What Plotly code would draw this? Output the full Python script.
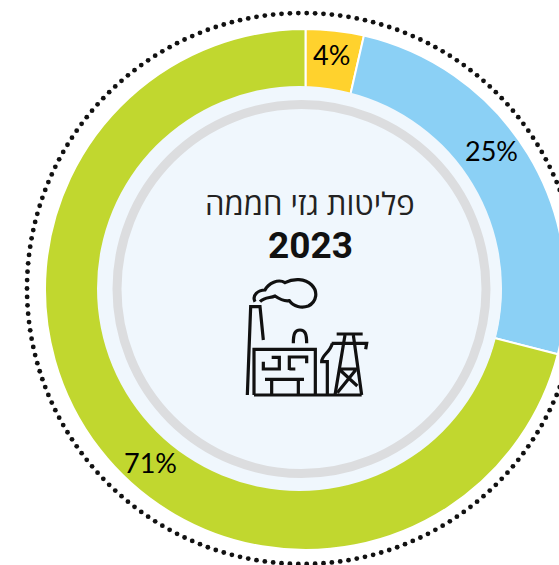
import re
import numpy as np
import plotly.graph_objects as go

categories = ["Yellow", "Blue", "Green"]
shares = [3.6, 25.4, 71]
share_labels = ["4%", "25%", "71%"]
colors = ["#FFD22D", "#8BD0F5", "#C1D72F"]
title_text = "פליטות גזי חממה"
year_text = "2023"

W, H = 600, 565
CX, CY, R = 305.5, 289.5, 260.5
DISC_X, DISC_Y, DISC_R = 299.5, 288.5, 202.5
RING_X, RING_Y, RING_R = 301.5, 289, 184.5
DOT_X, DOT_Y, DOT_R = 302.5, 288.5, 275.5
label_pos = [(331, 54), (491, 150), (150, 462)]

fig = go.Figure()

fig.add_trace(go.Pie(
    labels=categories, values=shares, sort=False, direction="clockwise", rotation=0,
    hole=195 / R, marker=dict(colors=colors, line=dict(color="white", width=2)),
    textinfo="none", hoverinfo="label+percent", showlegend=False,
    domain=dict(x=[(CX - R) / W, (CX + R) / W], y=[1 - (CY + R) / H, 1 - (CY - R) / H]),
))

# dotted outer ring
n_dots = 206
a = np.linspace(0, 2 * np.pi, n_dots, endpoint=False)
fig.add_trace(go.Scatter(
    x=DOT_X + DOT_R * np.cos(a), y=DOT_Y + DOT_R * np.sin(a), mode="markers",
    marker=dict(color="#111111", size=4.8), hoverinfo="skip", showlegend=False, cliponaxis=False,
))

shapes = [
    dict(type="circle", layer="above", x0=DISC_X - DISC_R, x1=DISC_X + DISC_R,
         y0=DISC_Y - DISC_R, y1=DISC_Y + DISC_R, fillcolor="#F0F7FD", line=dict(width=0)),
    dict(type="circle", layer="above", x0=RING_X - RING_R, x1=RING_X + RING_R,
         y0=RING_Y - RING_R, y1=RING_Y + RING_R,
         fillcolor="rgba(0,0,0,0)", line=dict(color="#DCDDDF", width=9)),
]

icon_paths = [
    "M172 675 L182 410 L210 410 L220 510",
    "M192 675 L192 538 L376 538 L376 675",
    "M192 675 L515 675",
    "M310 520 C310 490 315 480 330 480 C345 480 350 490 350 520",
    "M220 575 L220 597 L268 597 L268 562 L245 562",
    "M350 580 L350 561 L298 561 L298 600 M298 597 L316 597",
    "M225 628 L342 628 M245 628 L245 675 M325 628 L325 675",
    "M465 495 L435 675 M490 495 L515 675",
    "M440 492 L518 492 M425 520 L530 520 L527 538",
    "M445 597 L505 597 M450 600 L502 648 M497 600 L442 668",
    "M412 675 L412 575 L395 575 C395 555 420 548 427 520",
    "M195 395 C185 375 205 360 225 360 C235 340 265 325 285 338 C310 325 345 325 365 345 "
    "C385 365 380 395 355 408 C335 415 310 410 298 392 C280 395 265 385 255 378 C240 385 225 380 210 395",
]

def to_px(path):
    nums = iter(range(10 ** 6))
    def rep(m):
        v = float(m.group())
        return f"{(190 + v / 3) if next(nums) % 2 == 0 else (170 + v / 3):.2f}"
    return re.sub(r"\d+(\.\d+)?", rep, path)

for p in icon_paths:
    shapes.append(dict(type="path", path=to_px(p), layer="above", line=dict(color="#111111", width=3.2)))

anns = [dict(x=x, y=y, text=t, showarrow=False,
             font=dict(family="Lato", size=27, color="#000000"))
        for (x, y), t in zip(label_pos, share_labels)]
anns.append(dict(x=310, y=203, text=title_text, showarrow=False,
                 font=dict(family="Open Sans", size=31, color="#222222")))
anns.append(dict(x=310, y=245, text=year_text, showarrow=False,
                 font=dict(family="Roboto", size=37, color="#111111", weight="bold")))

fig.update_layout(
    width=W, height=H, margin=dict(l=0, r=0, t=0, b=0), autosize=False,
    paper_bgcolor="white", plot_bgcolor="rgba(0,0,0,0)",
    xaxis=dict(range=[0, W], visible=False, domain=[0, 1], fixedrange=True),
    yaxis=dict(range=[H, 0], visible=False, domain=[0, 1], fixedrange=True),
    shapes=shapes, annotations=anns, showlegend=False,
)
fig.write_html("out.html", config=dict(displayModeBar=False),
               post_script="document.body.style.margin='0';document.body.style.overflow='hidden';")
